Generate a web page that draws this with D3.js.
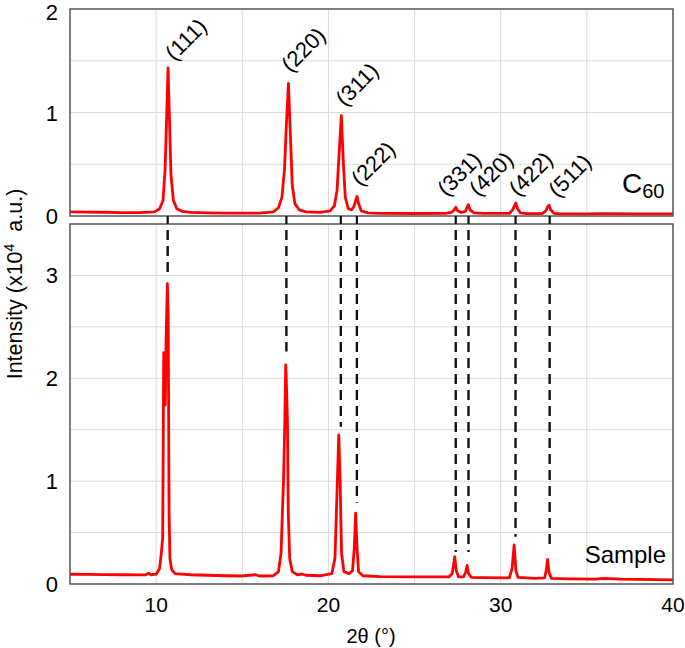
<!DOCTYPE html>
<html><head><meta charset="utf-8">
<script src="https://cdn.jsdelivr.net/npm/d3@7"></script>
<style>body{margin:0;background:#fff}svg{display:block}text{font-family:"Liberation Sans",Arial,sans-serif;fill:#000}</style>
</head><body><svg id="c" width="685" height="648"></svg>
<script>
// C60 reference pattern (2θ in degrees, intensity x10^4 a.u.)
const c60TwoTheta = [5,6,7,8,9,9.9,10.2,10.4,10.52,10.6,10.69,10.78,10.86,11.0,11.2,11.5,12,13,14,15,16,16.8,17.1,17.3,17.45,17.55,17.68,17.8,17.9,18.05,18.3,18.7,19.5,20.1,20.35,20.5,20.62,20.75,20.87,20.98,21.15,21.35,21.5,21.6,21.66,21.75,21.9,22.3,23,25,26.8,27.15,27.3,27.39,27.5,27.7,27.95,28.05,28.12,28.22,28.45,29,30.5,30.7,30.8,30.88,30.98,31.15,31.5,32.4,32.62,32.73,32.81,32.9,33.1,33.5,35,36,38,40];
const c60Intensity = [0.04,0.038,0.036,0.033,0.032,0.04,0.07,0.15,0.45,0.9,1.43,0.9,0.4,0.15,0.07,0.045,0.035,0.03,0.028,0.027,0.028,0.04,0.08,0.18,0.45,0.85,1.28,0.75,0.3,0.12,0.06,0.04,0.035,0.05,0.1,0.25,0.6,0.97,0.5,0.18,0.07,0.06,0.1,0.16,0.19,0.12,0.05,0.03,0.025,0.024,0.025,0.035,0.06,0.085,0.05,0.035,0.045,0.085,0.11,0.06,0.03,0.025,0.025,0.06,0.1,0.125,0.07,0.03,0.022,0.022,0.05,0.09,0.105,0.06,0.025,0.02,0.02,0.022,0.02,0.02];

// Sample pattern
const sampleTwoTheta = [5,6,7,8,9,9.4,9.56,9.7,10.0,10.2,10.3,10.38,10.44,10.5,10.53,10.58,10.65,10.7,10.75,10.8,10.9,11.1,12,13,14,15,15.78,16,16.8,17.1,17.25,17.35,17.4,17.47,17.52,17.57,17.62,17.67,17.75,17.9,18.2,18.5,18.7,19.5,20.2,20.38,20.5,20.6,20.68,20.76,20.9,21.2,21.4,21.5,21.58,21.66,21.75,22,23,25,27,27.18,27.25,27.33,27.42,27.55,27.85,27.97,28.05,28.13,28.3,29,30.5,30.66,30.78,30.88,31.0,32,32.55,32.64,32.72,32.81,32.95,34,35.5,36,37,40];
const sampleIntensity = [0.095,0.093,0.092,0.09,0.088,0.09,0.105,0.09,0.095,0.15,0.3,0.45,2.25,2.2,1.74,2.4,2.92,2.6,0.7,0.25,0.14,0.1,0.09,0.085,0.08,0.078,0.09,0.078,0.08,0.12,0.3,0.8,1.04,1.6,2.13,1.9,1.6,0.7,0.25,0.12,0.09,0.095,0.085,0.08,0.1,0.25,0.9,1.45,1.0,0.3,0.12,0.1,0.13,0.35,0.69,0.35,0.12,0.08,0.072,0.07,0.07,0.1,0.17,0.265,0.13,0.07,0.07,0.12,0.18,0.1,0.065,0.062,0.06,0.15,0.38,0.13,0.065,0.055,0.06,0.13,0.24,0.11,0.055,0.05,0.048,0.055,0.047,0.04];

// Reflections
const hklLabels = ["(111)","(220)","(311)","(222)","(331)","(420)","(422)","(511)"];
const hklTwoTheta = [10.67,17.56,20.72,21.65,27.39,28.13,30.86,32.84];
const dashEndIntensity = [3.03,2.26,1.53,0.79,0.31,0.31,0.46,0.33];
const labelTwoTheta = [11.05,17.8,20.95,21.85,26.85,28.7,31.0,33.3];
const labelIntensity = [1.49,1.38,1.05,0.28,0.18,0.18,0.18,0.17];

const xTicks = [10,20,30,40];
const topYTicks = [0,1,2];
const bottomYTicks = [0,1,2,3];

const svg = d3.select("#c");
const x = d3.scaleLinear().domain([5,40]).range([70,673]);
const yTop = d3.scaleLinear().domain([0,2]).range([216,9]);
const yBot = d3.scaleLinear().domain([0,3.5]).range([584,224]);

const grid = svg.append("g").attr("stroke","#d9d9d9").attr("stroke-width",1);
function drawGrid(y, ymax){
  d3.range(10,40,5).forEach(v=>grid.append("line").attr("x1",x(v)).attr("x2",x(v)).attr("y1",y(0)).attr("y2",y(ymax)));
  d3.range(0.5,ymax,0.5).forEach(v=>grid.append("line").attr("x1",x(5)).attr("x2",x(40)).attr("y1",y(v)).attr("y2",y(v)));
}
drawGrid(yTop,2); drawGrid(yBot,3.5);

// data lines
const c60 = c60TwoTheta.map((t,i)=>[t,c60Intensity[i]]);
const smp = sampleTwoTheta.map((t,i)=>[t,sampleIntensity[i]]);
svg.append("path").datum(c60).attr("fill","none").attr("stroke","#ff0000").attr("stroke-width",2.8).attr("stroke-linejoin","round")
  .attr("d",d3.line().x(d=>x(d[0])).y(d=>yTop(d[1])));
svg.append("path").datum(smp).attr("fill","none").attr("stroke","#ff0000").attr("stroke-width",2.8).attr("stroke-linejoin","round")
  .attr("d",d3.line().x(d=>x(d[0])).y(d=>yBot(d[1])));

// frames
svg.append("rect").attr("x",x(5)).attr("y",yTop(2)).attr("width",x(40)-x(5)).attr("height",yTop(0)-yTop(2)).attr("fill","none").attr("stroke","#555").attr("stroke-width",1.5);
svg.append("rect").attr("x",x(5)).attr("y",yBot(3.5)).attr("width",x(40)-x(5)).attr("height",yBot(0)-yBot(3.5)).attr("fill","none").attr("stroke","#555").attr("stroke-width",1.5);

// ticks and dashed guide lines
hklTwoTheta.forEach((t,i)=>{
  svg.append("line").attr("x1",x(t)).attr("x2",x(t)).attr("y1",yTop(0)).attr("y2",yBot(3.5)).attr("stroke","#111").attr("stroke-width",2.2);
  svg.append("line").attr("x1",x(t)).attr("x2",x(t)).attr("y1",yBot(3.5)).attr("y2",yBot(dashEndIntensity[i]))
    .attr("stroke","#111").attr("stroke-width",2.4).attr("stroke-dasharray","10,6").attr("stroke-dashoffset",10);
});

// hkl labels
hklLabels.forEach((l,i)=>{
  const px = x(labelTwoTheta[i]), py = yTop(labelIntensity[i]);
  svg.append("text").attr("transform",`translate(${px},${py}) rotate(-45)`).attr("font-size",22).text(l);
});

// tick labels
svg.append("g").selectAll("text").data(xTicks).join("text").attr("x",d=>x(d)).attr("y",612).attr("text-anchor","middle").attr("font-size",21).text(d=>d);
svg.append("g").selectAll("text").data(topYTicks).join("text").attr("x",58).attr("y",d=>Math.max(yTop(d)+8,20)).attr("text-anchor","end").attr("font-size",22).text(d=>d);
svg.append("g").selectAll("text").data(bottomYTicks).join("text").attr("x",58).attr("y",d=>yBot(d)+8).attr("text-anchor","end").attr("font-size",22).text(d=>d);

// titles
const yt = svg.append("text").attr("transform","translate(22,284) rotate(-90)").attr("text-anchor","middle").attr("font-size",21.5);
yt.append("tspan").text("Intensity (x10");
yt.append("tspan").attr("font-size",14).attr("dy",-8).text("4");
yt.append("tspan").attr("dy",8).text("\u00a0 a.u.)");
svg.append("text").attr("x",371).attr("y",643).attr("text-anchor","middle").attr("font-size",20).text("2\u03b8 (\u00b0)");

const ct = svg.append("text").attr("x",622).attr("y",193).attr("font-size",28);
ct.append("tspan").text("C");
ct.append("tspan").attr("font-size",20).attr("dy",5).text("60");
svg.append("text").attr("x",666).attr("y",563).attr("text-anchor","end").attr("font-size",24).text("Sample");
</script></body></html>
